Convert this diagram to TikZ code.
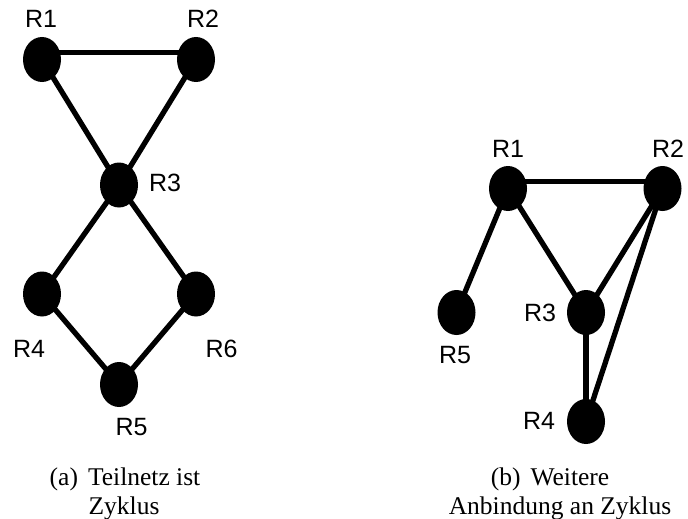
\documentclass[tikz,border=0pt]{standalone}
\usepackage{fontspec}
\setmainfont{Liberation Serif}
\newfontfamily\rfont{Liberation Sans}
\usetikzlibrary{shapes.geometric,backgrounds}

\begin{document}
\begin{tikzpicture}[
  x=1pt, y=-1pt,
  router/.style={ellipse, fill=black, minimum width=38pt, minimum height=45pt, inner sep=0pt},
  link/.style={line width=5.3pt},
  rname/.style={font=\rfont\fontsize{25}{30}\selectfont, inner sep=0pt},
  capt/.style={font=\fontsize{25.5}{29}\selectfont, inner sep=0pt, anchor=base},
]
\useasboundingbox (0,0) rectangle (688,519);

% (a) subnet forms a cycle
\node[router] (a1) at (42,59.5)   {};
\node[router] (a2) at (196,59.5)  {};
\node[router] (a3) at (119,185)   {};
\node[router] (a4) at (42,294)    {};
\node[router] (a6) at (196,294)   {};
\node[router] (a5) at (119,384.5) {};

\node[rname] (la1) at (41,18.5)    {R1};
\node[rname] (la2) at (203,18.5)   {R2};
\node[rname] (la3) at (165,182.5)  {R3};
\node[rname] (la4) at (29,349)     {R4};
\node[rname] (la6) at (221.5,349)  {R6};
\node[rname] (la5) at (131.5,427)  {R5};

\begin{scope}[on background layer]
  \draw[link] ([yshift=7pt]a1.center) -- ([yshift=7pt]a2.center);
  \draw[link] (a1.center) -- (a3.center);
  \draw[link] (a2.center) -- (a3.center);
  \draw[link] (a3.center) -- (a4.center);
  \draw[link] (a3.center) -- (a6.center);
  \draw[link] (a4.center) -- (a5.center);
  \draw[link] (a6.center) -- (a5.center);
\end{scope}

\node[capt] (capa1) at (125,485) {(a)\hspace{10pt}Teilnetz ist};
\node[capt] (capa2) at (124,514) {Zyklus};

% (b) further link to the cycle
\node[router] (b1) at (508,188.5)   {};
\node[router] (b2) at (662.5,188.5) {};
\node[router] (b3) at (586,312.5)   {};
\node[router] (b5) at (456.5,312.5) {};
\node[router] (b4) at (586,421.5)   {};

\node[rname] (lb1) at (508,149)  {R1};
\node[rname] (lb2) at (668,149)  {R2};
\node[rname] (lb3) at (540,313)  {R3};
\node[rname] (lb5) at (455,355)  {R5};
\node[rname] (lb4) at (539,421)  {R4};

\begin{scope}[on background layer]
  \draw[link] ([yshift=7pt]b1.center) -- ([yshift=7pt]b2.center);
  \draw[link] (b1.center) -- (b5.center);
  \draw[link] (b1.center) -- (b3.center);
  \draw[link] (b2.center) -- (b3.center);
  \draw[link] (b2.center) -- (b4.center);
  \draw[link] (b3.center) -- (b4.center);
\end{scope}

\node[capt] (capb1) at (550,485) {(b)\hspace{10pt}Weitere};
\node[capt] (capb2) at (560,514) {Anbindung an Zyklus};
\end{tikzpicture}
\end{document}
